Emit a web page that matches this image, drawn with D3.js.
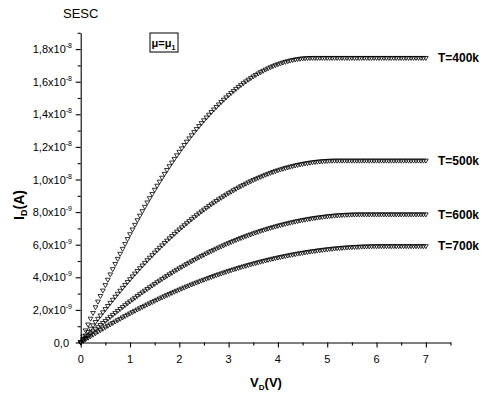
<!DOCTYPE html>
<html>
<head>
<meta charset="utf-8">
<script src="https://cdn.jsdelivr.net/npm/d3@7"></script>
<style>
  html, body { margin: 0; padding: 0; background: #fff; }
  svg { display: block; font-family: "Liberation Sans", Arial, sans-serif; }
</style>
</head>
<body>
<svg id="chart" width="487" height="396"></svg>
<script>
// Drain current I_D (in units of 1e-9 A) against drain voltage V_D,
// sampled every 0.05 V from 0 to 7 V, for four temperatures.
const vdStep = 0.05;

const id400 = [
  0,0.369,0.735,1.096,1.454,1.807,2.157,2.502,2.844,3.181,
  3.515,3.845,4.171,4.493,4.811,5.125,5.435,5.741,6.043,6.341,
  6.636,6.926,7.212,7.495,7.773,8.048,8.318,8.585,8.847,9.106,
  9.361,9.612,9.859,10.101,10.340,10.575,10.806,11.034,11.257,11.476,
  11.691,11.903,12.110,12.313,12.513,12.708,12.900,13.087,13.271,13.451,
  13.627,13.798,13.966,14.130,14.290,14.446,14.598,14.746,14.890,15.031,
  15.167,15.299,15.428,15.552,15.673,15.789,15.902,16.010,16.115,16.216,
  16.312,16.405,16.494,16.579,16.660,16.737,16.810,16.879,16.944,17.006,
  17.063,17.116,17.166,17.211,17.252,17.290,17.324,17.353,17.379,17.401,
  17.418,17.432,17.442,17.448,17.45,
  17.45,17.45,17.45,17.45,17.45,17.45,17.45,17.45,17.45,17.45,
  17.45,17.45,17.45,17.45,17.45,17.45,17.45,17.45,17.45,17.45,
  17.45,17.45,17.45,17.45,17.45,17.45,17.45,17.45,17.45,17.45,
  17.45,17.45,17.45,17.45,17.45,17.45,17.45,17.45,17.45,17.45,
  17.45,17.45,17.45,17.45,17.45,17.45
];

const id500 = [
  0,0.213,0.425,0.634,0.841,1.046,1.249,1.450,1.649,1.846,
  2.041,2.234,2.425,2.613,2.800,2.984,3.167,3.347,3.526,3.702,
  3.876,4.048,4.218,4.386,4.552,4.716,4.878,5.038,5.196,5.351,
  5.505,5.656,5.806,5.953,6.099,6.242,6.383,6.522,6.659,6.795,
  6.928,7.058,7.187,7.314,7.439,7.562,7.682,7.801,7.917,8.032,
  8.144,8.254,8.363,8.469,8.573,8.675,8.775,8.873,8.969,9.062,
  9.154,9.244,9.332,9.417,9.501,9.582,9.661,9.739,9.814,9.887,
  9.958,10.027,10.094,10.159,10.222,10.283,10.342,10.398,10.453,10.506,
  10.556,10.605,10.651,10.695,10.738,10.778,10.816,10.852,10.886,10.918,
  10.948,10.976,11.002,11.025,11.047,11.066,11.084,11.099,11.113,11.124,
  11.133,11.141,11.146,11.149,11.15,
  11.15,11.15,11.15,11.15,11.15,11.15,11.15,11.15,11.15,11.15,
  11.15,11.15,11.15,11.15,11.15,11.15,11.15,11.15,11.15,11.15,
  11.15,11.15,11.15,11.15,11.15,11.15,11.15,11.15,11.15,11.15,
  11.15,11.15,11.15,11.15,11.15,11.15
];

const id600 = [
  0,0.137,0.273,0.408,0.541,0.674,0.805,0.934,1.063,1.191,
  1.317,1.442,1.566,1.688,1.810,1.930,2.049,2.167,2.283,2.399,
  2.513,2.626,2.737,2.848,2.957,3.065,3.172,3.278,3.383,3.486,
  3.588,3.689,3.788,3.887,3.984,4.080,4.175,4.269,4.361,4.452,
  4.542,4.631,4.719,4.805,4.890,4.974,5.057,5.139,5.219,5.298,
  5.376,5.453,5.528,5.602,5.675,5.747,5.818,5.888,5.956,6.023,
  6.089,6.153,6.217,6.279,6.340,6.400,6.458,6.516,6.572,6.627,
  6.681,6.733,6.784,6.835,6.884,6.931,6.978,7.023,7.067,7.110,
  7.152,7.192,7.231,7.270,7.306,7.342,7.376,7.410,7.442,7.472,
  7.502,7.530,7.558,7.584,7.608,7.632,7.654,7.675,7.695,7.714,
  7.732,7.748,7.763,7.777,7.790,7.801,7.811,7.820,7.828,7.835,
  7.840,7.845,7.848,7.849,7.85,
  7.85,7.85,7.85,7.85,7.85,7.85,7.85,7.85,7.85,7.85,
  7.85,7.85,7.85,7.85,7.85,7.85,7.85,7.85,7.85,7.85,
  7.85,7.85,7.85,7.85,7.85,7.85
];

const id700 = [
  0,0.096,0.192,0.287,0.381,0.474,0.566,0.658,0.748,0.838,
  0.928,1.016,1.104,1.190,1.276,1.362,1.446,1.530,1.613,1.695,
  1.776,1.856,1.936,2.015,2.093,2.170,2.247,2.323,2.397,2.472,
  2.545,2.617,2.689,2.760,2.830,2.900,2.968,3.036,3.103,3.169,
  3.235,3.299,3.363,3.426,3.488,3.550,3.610,3.670,3.729,3.788,
  3.845,3.902,3.958,4.013,4.067,4.121,4.173,4.225,4.276,4.327,
  4.376,4.425,4.473,4.520,4.567,4.612,4.657,4.701,4.744,4.787,
  4.828,4.869,4.909,4.948,4.987,5.024,5.061,5.097,5.133,5.167,
  5.201,5.234,5.266,5.297,5.328,5.357,5.386,5.414,5.442,5.468,
  5.494,5.519,5.543,5.567,5.589,5.611,5.632,5.652,5.672,5.690,
  5.708,5.725,5.742,5.757,5.772,5.786,5.799,5.811,5.822,5.833,
  5.843,5.852,5.860,5.868,5.875,5.881,5.886,5.890,5.894,5.896,
  5.898,5.900,5.90,
  5.90,5.90,5.90,5.90,5.90,5.90,5.90,5.90,5.90,5.90,
  5.90,5.90,5.90,5.90,5.90,5.90,5.90,5.90
];

const seriesNames = ["T=400k", "T=500k", "T=600k", "T=700k"];
const seriesValues = [id400, id500, id600, id700];

// Axis ticks
const xMajorTicks = [0, 1, 2, 3, 4, 5, 6, 7];
const xMinorTicks = [0.5, 1.5, 2.5, 3.5, 4.5, 5.5, 6.5, 7.5];
const yMajorTicks = [0, 2, 4, 6, 8, 10, 12, 14, 16, 18];
const yMinorTicks = [1, 3, 5, 7, 9, 11, 13, 15, 17, 19];
const yTickMantissa = ["0,0", "2,0x10", "4,0x10", "6,0x10", "8,0x10", "1,0x10", "1,2x10", "1,4x10", "1,6x10", "1,8x10"];
const yTickExponent = ["", "-9", "-9", "-9", "-9", "-8", "-8", "-8", "-8", "-8"];

const svg = d3.select("#chart");

const x = d3.scaleLinear().domain([0, 7.5]).range([80.7, 450.5]);
const y = d3.scaleLinear().domain([0, 19]).range([342.5, 32.8]);

// Title
svg.append("text").attr("x", 63).attr("y", 18)
  .attr("font-size", 13).text("SESC");

// X axis
const gx = svg.append("g").attr("transform", `translate(0,${y(0)})`);
gx.call(d3.axisBottom(x).tickValues(xMajorTicks).tickSize(5).tickSizeOuter(0).tickFormat(""));
gx.append("g").call(d3.axisBottom(x).tickValues(xMinorTicks).tickSize(3).tickSizeOuter(0).tickFormat(""))
  .select(".domain").remove();
gx.selectAll("path,line").attr("stroke", "#000").attr("stroke-width", 1.1);

svg.append("g").selectAll("text").data(xMajorTicks).join("text")
  .attr("x", d => x(d)).attr("y", 363)
  .attr("text-anchor", "middle").attr("font-size", 11)
  .text(d => d);

// Y axis
const gy = svg.append("g").attr("transform", `translate(${x(0)},0)`);
gy.call(d3.axisLeft(y).tickValues(yMajorTicks).tickSize(5).tickSizeOuter(0).tickFormat(""));
gy.append("g").call(d3.axisLeft(y).tickValues(yMinorTicks).tickSize(3).tickSizeOuter(0).tickFormat(""))
  .select(".domain").remove();
gy.selectAll("path,line").attr("stroke", "#000").attr("stroke-width", 1.1);

const yLabels = svg.append("g").selectAll("text").data(yMajorTicks).join("text")
  .attr("x", (d, i) => i === 0 ? 69 : 72)
  .attr("y", d => y(d) + 4)
  .attr("text-anchor", "end").attr("font-size", 11);
yLabels.append("tspan").text((d, i) => yTickMantissa[i]);
yLabels.append("tspan").attr("font-size", 7).attr("dy", -5)
  .text((d, i) => yTickExponent[i]);

// Axis titles
const xTitle = svg.append("text").attr("x", 266).attr("y", 387)
  .attr("text-anchor", "middle").attr("font-size", 13).attr("font-weight", "bold");
xTitle.append("tspan").text("V");
xTitle.append("tspan").attr("font-size", 8).attr("dy", 3).text("D");
xTitle.append("tspan").attr("dy", -3).text("(V)");

const yTitle = svg.append("text")
  .attr("transform", "translate(24,205) rotate(-90)")
  .attr("text-anchor", "middle").attr("font-size", 14).attr("font-weight", "bold");
yTitle.append("tspan").text("I");
yTitle.append("tspan").attr("font-size", 9).attr("dy", 3).text("D");
yTitle.append("tspan").attr("dy", -3).text("(A)");

// Parameter box
svg.append("rect").attr("x", 150).attr("y", 33).attr("width", 28).attr("height", 19)
  .attr("fill", "#fff").attr("stroke", "#000").attr("stroke-width", 1);
svg.append("line").attr("x1", 150.5).attr("x2", 178.5).attr("y1", 52.5).attr("y2", 52.5)
  .attr("stroke", "#777").attr("stroke-width", 1);
const mu = svg.append("text").attr("x", 151.5).attr("y", 47)
  .attr("font-size", 11).attr("font-weight", "bold");
mu.append("tspan").text("\u03BC=\u03BC");
mu.append("tspan").attr("font-size", 7).attr("dy", 3).text("1");

// Data markers: open down-pointing triangles
const tri = "M-2.4,-1.6L2.4,-1.6L0,2.4Z";
seriesValues.forEach((vals, si) => {
  svg.append("g").selectAll("path").data(vals).join("path")
    .attr("transform", (d, i) => `translate(${x(i * vdStep)},${y(d)})`)
    .attr("d", tri)
    .attr("fill", "none").attr("stroke", "#000").attr("stroke-width", 0.8);
  const last = vals[vals.length - 1];
  svg.append("text")
    .attr("x", 438).attr("y", y(last) + 4)
    .attr("font-size", 12).attr("font-weight", "bold")
    .text(seriesNames[si]);
});
</script>
</body>
</html>
